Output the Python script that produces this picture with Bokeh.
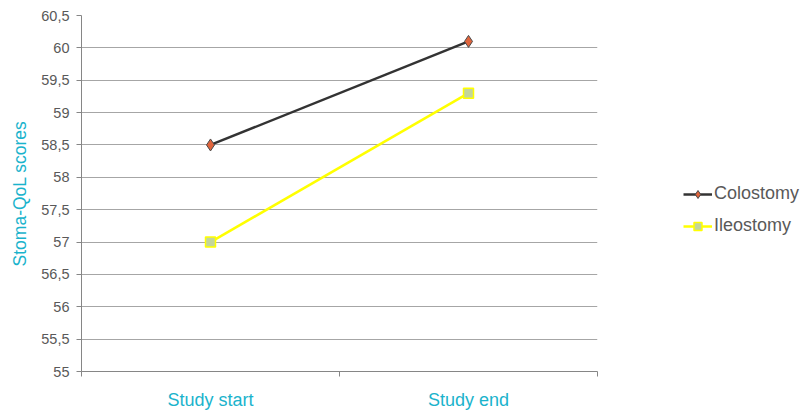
from bokeh.plotting import figure
from bokeh.models import FixedTicker, Legend, LegendItem, Range1d, ColumnDataSource
from bokeh.embed import file_html
from bokeh.resources import INLINE

categories = ["Study start", "Study end"]
colostomy = [58.5, 60.1]
ileostomy = [57.0, 59.3]
y_ticks = [55, 55.5, 56, 56.5, 57, 57.5, 58, 58.5, 59, 59.5, 60, 60.5]
y_tick_labels = ["55", "55,5", "56", "56,5", "57", "57,5", "58", "58,5", "59", "59,5", "60", "60,5"]

x_pos = [i + 0.5 for i in range(len(categories))]

p = figure(width=796, height=413, output_backend="svg", toolbar_location=None,
           x_range=Range1d(0, len(categories)), y_range=Range1d(55, 60.5),
           min_border_left=81, min_border_top=15, min_border_bottom=42, min_border_right=199,
           frame_width=516, frame_height=356)
p.outline_line_color = None
p.background_fill_color = "white"

# grid
p.xgrid.grid_line_color = None
p.ygrid.grid_line_color = "#a6a6a6"
p.ygrid.grid_line_width = 1

# y axis
p.yaxis.ticker = FixedTicker(ticks=y_ticks)
p.yaxis.major_label_overrides = {t: l for t, l in zip(y_ticks, y_tick_labels)}
p.yaxis.axis_line_color = "#868686"
p.yaxis.major_tick_line_color = "#868686"
p.yaxis.major_tick_out = 5
p.yaxis.major_tick_in = 0
p.yaxis.minor_tick_line_color = None
p.yaxis.major_label_text_font = "Liberation Sans"
p.yaxis.major_label_text_font_size = "14.5px"
p.yaxis.major_label_text_color = "#595959"
p.yaxis.major_label_standoff = 7
p.yaxis.axis_label = "Stoma-QoL scores"
p.yaxis.axis_label_text_font = "Liberation Sans"
p.yaxis.axis_label_text_font_size = "17.5px"
p.yaxis.axis_label_text_font_style = "normal"
p.yaxis.axis_label_text_color = "#1ab3cc"
p.yaxis.axis_label_standoff = 8

# x axis
p.xaxis.ticker = FixedTicker(ticks=x_pos, minor_ticks=[0, 1, 2])
p.xaxis.major_label_overrides = {x: c for x, c in zip(x_pos, categories)}
p.xaxis.axis_line_color = "#868686"
p.xaxis.major_tick_line_color = None
p.xaxis.minor_tick_line_color = "#868686"
p.xaxis.minor_tick_out = 5
p.xaxis.minor_tick_in = 0
p.xaxis.major_label_text_font = "Liberation Sans"
p.xaxis.major_label_text_font_size = "18px"
p.xaxis.major_label_text_color = "#1ab3cc"
p.xaxis.major_label_standoff = 12

src = ColumnDataSource(dict(x=x_pos, colo=colostomy, ileo=ileostomy))

l1 = p.line("x", "colo", source=src, line_color="#333333", line_width=2.5)
m1 = p.scatter("x", "colo", source=src, marker="diamond", size=12,
               fill_color="#e0643c", line_color="#4a4a4a", line_width=1)
l2 = p.line("x", "ileo", source=src, line_color="#ffff00", line_width=2.5)
m2 = p.scatter("x", "ileo", source=src, marker="square", size=10,
               fill_color="#c3d69b", line_color="#ffff00", line_width=1.5)

legend = Legend(items=[LegendItem(label="Colostomy", renderers=[l1, m1]),
                       LegendItem(label="Ileostomy", renderers=[l2, m2])],
                location=(86, 135))
legend.border_line_color = None
legend.background_fill_alpha = 0
legend.padding = 0
legend.margin = 0
legend.spacing = 11
legend.glyph_width = 29
legend.glyph_height = 20
legend.label_height = 20
legend.label_standoff = 2
legend.label_text_font = "Liberation Sans"
legend.label_text_font_size = "18px"
legend.label_text_color = "#595959"
p.add_layout(legend, "right")

open("out.html", "w").write(file_html(p, INLINE))
